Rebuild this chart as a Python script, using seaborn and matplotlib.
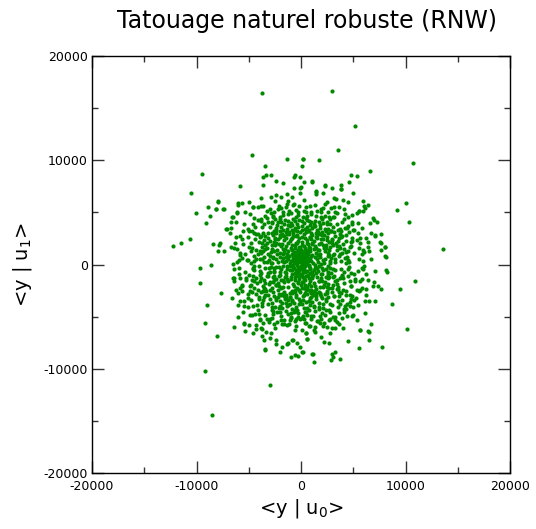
import matplotlib
matplotlib.use("Agg")
import matplotlib.pyplot as plt
from matplotlib.ticker import MultipleLocator
import seaborn as sns
import pandas as pd

# Coordonnees, en milliers : (<y|u0>, <y|u1>)
centre = [
    (-1.2, 2.1), (-0.6, 1.9), (0.1, 2.2), (0.7, 2.0), (1.3, 1.8), (-0.2, 1.7), (0.4, 1.6), (-1.5, 1.5),
    (1.6, 1.4), (-0.9, 1.4), (0.9, 1.3), (-2.0, 1.1), (-1.3, 1.0), (-0.5, 1.2), (0.2, 1.1), (1.1, 0.9),
    (1.8, 1.0), (-0.1, 0.8), (0.6, 0.7), (-0.8, 0.7), (-1.7, 0.6), (1.5, 0.5), (2.1, 0.4), (-2.2, 0.2),
    (-1.4, 0.3), (-0.7, 0.2), (0.0, 0.4), (0.5, 0.1), (1.0, 0.3), (1.7, -0.1), (-1.1, -0.1), (-0.3, -0.2),
    (0.3, -0.4), (0.9, -0.3), (-1.9, -0.4), (-1.5, -0.7), (-0.6, -0.8), (0.1, -0.9), (0.7, -1.0), (1.4, -0.8),
    (2.0, -0.9), (-2.1, -1.1), (-1.0, -1.2), (-0.2, -1.4), (0.4, -1.5), (1.1, -1.3), (1.7, -1.6), (-1.6, -1.7),
    (-0.8, -1.9), (0.0, -2.0), (0.8, -1.9), (1.3, -2.1), (-1.2, -2.2), (-0.4, -2.3), (0.5, -2.4),
    (-1.0, 2.4), (0.4, 2.5), (-0.3, 2.3), (1.0, 2.4), (-1.8, 2.0), (1.9, 2.1), (-0.7, 1.2), (0.0, 1.4),
    (0.5, 1.0), (1.2, 1.5), (-1.2, 0.5), (-0.4, 0.5), (0.3, 0.6), (0.8, 0.0), (1.3, 0.0), (-0.5, -0.5),
    (0.0, -0.1), (0.6, -0.6), (1.2, -0.5), (-1.3, -0.4), (-0.9, -0.9), (-0.4, -1.0), (0.2, -1.2), (0.9, -1.6),
    (1.5, -1.2), (-1.9, -1.5), (-1.4, -1.1), (-0.6, -1.5), (0.2, -1.7), (1.0, -2.4), (-0.1, -2.6), (-0.9, -2.5),
    (0.6, -2.8), (-0.5, -2.9), (0.2, -3.0), (-0.2, 0.2), (0.2, 0.3), (-0.6, 0.9), (0.1, 1.9), (-0.3, 1.0),
    (0.8, 1.7), (-1.4, 1.8), (1.5, 2.5), (-2.3, 1.4), (2.3, 1.3), (-2.4, -0.2), (2.4, -0.4), (-2.4, -2.0),
    (2.2, -2.0), (-1.6, -2.6), (1.7, -2.6), (-0.3, -1.8), (0.5, -1.1), (-0.8, 0.0), (0.4, -0.1), (1.6, 0.9),
    (-1.7, 1.0), (0.9, 0.6), (-0.1, 0.6), (0.2, 0.9), (-0.9, 1.9), (0.6, 2.1), (-0.4, 2.8), (0.3, 2.9),
    (1.1, 2.8), (-1.3, 2.9), (-2.0, 2.6), (2.0, 2.8), (2.6, 0.8), (-2.7, 0.7), (2.7, -1.2), (-2.7, -1.2),
    (-0.2, -3.3), (0.9, -3.2), (-1.1, -3.1), (0.05, 0.05), (-0.15, -0.5), (0.35, 0.45), (-0.45, 0.15),
    (0.65, 0.35), (-0.65, -0.3), (0.15, -0.7), (-0.05, 1.2), (0.45, 1.3), (-0.95, 0.35), (1.05, -0.75),
    (-1.15, 0.85), (1.3, 0.75), (-0.25, -1.15), (0.75, -1.25), (-1.25, -1.55), (1.25, -1.75), (-0.55, 1.6),
    (0.25, 1.75), (-1.75, -0.15), (1.95, 0.05), (0.05, -1.65), (-0.7, -2.1), (0.95, -2.05), (-2.05, 0.75),
    (2.1, -0.55), (-0.35, 2.05), (0.55, 2.35), (1.4, 1.1), (-1.45, -0.8), (-0.75, 0.55), (0.85, -0.85),
    (-1.05, -0.55), (1.55, -0.35), (-1.6, 0.2), (0.15, 0.7), (-0.25, -0.75), (0.7, 1.05), (-0.85, 1.05),
    (1.05, 1.95), (-1.65, 2.35), (2.35, 1.85), (-2.5, 1.85), (2.55, -0.1), (-2.55, -0.75), (1.9, -1.25),
    (-2.2, -1.8), (0.3, -2.25), (-0.55, -2.65), (1.45, -2.75), (-1.9, -2.9), (2.5, -2.5), (0.7, 3.2),
    (-0.8, 3.0), (1.6, 3.1), (-2.4, 3.0), (-3.0, -1.7), (3.0, 2.1), (-0.1, 3.1), (0.45, -3.55), (-1.5, -3.3),
]

centre_bis = [
    (-0.12, 0.33), (0.27, -0.18), (-0.38, -0.07), (0.58, 0.62), (-0.71, 0.44), (0.83, -0.47), (-0.52, -1.02),
    (0.12, 1.02), (-1.08, 0.12), (1.12, 0.18), (-0.31, 1.41), (0.68, 1.38), (-1.21, 1.27), (1.44, 1.63),
    (-1.63, 1.22), (1.83, 0.72), (-1.86, 0.38), (2.02, -0.33), (-2.04, -0.71), (1.62, -0.66), (-1.33, -1.38),
    (0.37, -1.93), (-0.62, -1.22), (1.08, -1.12), (-0.03, -0.47), (0.48, 0.27), (-0.83, -0.52), (0.97, 0.82),
    (-0.18, 2.53), (0.82, 2.62), (-0.77, 2.71), (1.28, 2.23), (-1.47, 2.51), (2.18, 1.62), (-2.28, 1.03),
    (2.32, 0.53), (-2.39, 0.48), (2.63, -0.68), (-2.61, -0.33), (1.98, -1.62), (-1.72, -2.12), (0.62, -2.14),
    (-0.23, -2.48), (1.41, -2.38), (-1.08, -2.72), (0.38, -2.71), (-0.47, -3.08), (1.18, -2.97), (-2.37, -1.42),
    (2.41, -1.18), (0.08, 2.68), (-0.52, 2.02), (0.33, 1.33), (-0.93, 1.62), (1.73, 1.98), (-1.92, 1.73),
    (2.52, 2.32), (-2.62, 2.12), (2.82, 0.32), (-2.88, 0.12), (2.72, 1.42), (-2.81, 1.52), (3.02, -0.43),
    (-3.03, -0.38), (0.18, -3.38), (-0.88, -3.42), (0.72, -3.53), (-1.62, -3.02), (1.88, -3.02), (0.07, 3.32),
    (-0.62, 3.28), (0.93, 2.98), (1.57, 2.82), (-1.78, 2.83), (-0.05, -1.08), (0.74, -0.18), (-0.59, 0.72),
    (0.28, -1.42), (1.31, -0.29), (-1.39, 0.68), (0.46, 0.92), (-0.96, -1.43), (1.63, 0.28), (-1.57, -1.23),
    (0.14, 0.52), (-0.34, 0.84), (0.88, 1.58), (-0.28, -1.68), (1.22, -2.57), (-2.18, -2.47), (2.12, 2.48),
    (-1.12, 3.12), (0.52, 3.08), (2.33, -2.82), (-2.51, 2.58), (-3.12, 0.98), (3.18, 1.02), (-3.22, -1.08),
    (3.21, -1.62), (0.98, -2.73), (-1.98, -0.98), (1.92, -0.93), (-0.72, -0.27), (0.62, 0.08), (-0.11, -0.87),
    (0.22, 0.12), (-0.42, 0.38), (0.39, -0.71), (-0.81, 0.91), (0.71, 1.21), (-1.31, -0.17), (1.19, -0.99),
    (-0.08, 1.58), (0.11, -2.22), (-1.01, 2.21), (1.01, 2.11), (-2.12, -0.28), (2.22, 0.18), (-0.61, -2.42),
    (0.72, -2.41),
]

milieu_gauche = [
    (-3.0, 0.8), (-3.6, 1.3), (-2.8, 1.9), (-3.2, 2.5), (-2.6, 3.2), (-1.7, 3.3), (-1.1, 3.7), (-0.4, 3.9),
    (-3.9, 0.5), (-4.3, 1.4), (-3.7, 2.1), (-4.1, 2.9), (-3.0, 3.6), (-2.3, 3.8), (-1.5, 4.3), (-0.8, 4.4),
    (-4.5, 0.8), (-4.4, 2.4), (-3.5, 3.9), (-2.8, 4.1), (-2.0, 4.6), (-1.2, 4.8), (-0.2, 4.3), (-5.0, 1.7),
    (-4.8, 0.1), (-2.5, 2.4), (-3.3, 1.6), (-2.0, 2.8), (-1.6, 2.7), (-0.9, 3.3), (-2.5, 4.4), (-3.3, 4.5),
    (-4.4, 3.6), (-5.1, 2.6), (-5.4, 1.0), (-1.7, 5.0), (-0.5, 5.2), (-2.9, 4.9), (-3.8, 1.1), (-3.3, 0.2),
    (-2.8, 0.1), (-4.0, 2.2), (-1.3, 3.4), (-0.3, 3.6), (-2.7, 2.8), (-3.6, 3.0), (-1.9, 4.1), (-1.0, 4.0),
    (-4.7, 3.2), (-2.2, 5.3), (-3.1, 0.4), (-2.9, 1.2), (-3.5, 0.7), (-4.0, -0.1), (-3.7, 1.7), (-1.2, 4.2),
    (-0.6, 3.5), (-1.9, 3.6), (-2.4, 2.1), (-3.4, 2.7),
    (-3.0, -0.7), (-3.5, -1.5), (-2.8, -2.3), (-3.4, -2.9), (-2.4, -3.4), (-1.8, -3.7), (-1.1, -3.8),
    (-0.5, -4.1), (-3.9, -0.6), (-4.2, -1.8), (-3.6, -2.5), (-4.0, -3.3), (-3.2, -3.8), (-2.1, -4.2),
    (-1.4, -4.5), (-0.7, -4.6), (-4.6, -1.1), (-4.5, -2.3), (-3.7, -4.0), (-2.8, -4.4), (-1.9, -4.9),
    (-1.0, -5.1), (-0.3, -4.7), (-4.9, -2.1), (-4.6, -0.4), (-2.7, -2.6), (-3.1, -1.9), (-2.2, -3.1),
    (-1.4, -2.9), (-0.9, -3.5), (-2.3, -4.6), (-3.4, -4.8), (-4.2, -3.9), (-5.1, -2.8), (-5.3, -1.3),
    (-1.6, -5.3), (-0.6, -5.4), (-2.8, -5.1), (-3.8, -1.3), (-3.4, -0.3), (-2.9, -0.2), (-4.1, -2.4),
    (-1.2, -3.4), (-0.2, -3.8), (-2.6, -3.0), (-3.6, -3.4), (-1.8, -4.2), (-0.9, -4.3), (-4.8, -3.4),
    (-2.3, -5.5), (-3.2, -1.1), (-2.6, -1.5), (-3.9, -1.6), (-1.9, -2.3), (-2.4, -2.0), (-0.7, -3.7),
]

milieu_droite = [
    (2.9, 0.6), (3.4, 1.4), (2.7, 2.2), (3.3, 2.7), (2.3, 3.4), (1.8, 3.5), (0.9, 3.8), (0.3, 4.0),
    (3.8, 0.3), (4.1, 1.5), (3.6, 2.5), (3.8, 3.2), (3.1, 3.6), (2.1, 4.0), (1.3, 4.2), (0.6, 4.7),
    (4.4, 0.7), (4.3, 2.3), (3.4, 3.9), (2.8, 4.4), (1.9, 4.6), (1.0, 5.0), (0.2, 4.6), (4.8, 1.8),
    (4.6, 0.2), (2.5, 2.6), (3.1, 1.9), (2.0, 3.1), (1.4, 2.6), (0.8, 3.3), (2.3, 4.7), (3.2, 4.6),
    (4.2, 3.5), (4.9, 2.5), (5.1, 1.1), (1.5, 5.1), (0.5, 5.5), (2.6, 5.0), (3.7, 1.0), (3.3, 0.5),
    (2.8, 0.1), (4.0, 2.0), (1.1, 3.5), (0.1, 3.7), (2.6, 3.0), (3.5, 3.3), (1.7, 4.1), (0.8, 4.2),
    (4.6, 3.1), (2.1, 5.4), (3.1, 0.9), (3.6, 1.8), (4.2, 0.6), (2.4, 1.6), (1.9, 2.4), (3.0, 2.4),
    (1.2, 3.9), (0.4, 3.4), (2.9, 3.2), (4.5, 1.3),
    (2.9, -0.8), (3.4, -1.5), (2.7, -2.3), (3.2, -3.0), (2.4, -3.5), (1.7, -3.7), (0.9, -3.9),
    (0.3, -4.2), (3.8, -0.4), (4.1, -1.8), (3.6, -2.6), (3.9, -3.4), (3.0, -3.9), (2.1, -4.2),
    (1.3, -4.5), (0.6, -4.8), (4.5, -1.1), (4.3, -2.5), (3.5, -4.1), (2.8, -4.6), (1.8, -4.9),
    (1.0, -5.2), (0.2, -4.9), (4.8, -2.1), (4.6, -0.2), (2.5, -2.7), (3.1, -2.0), (2.0, -3.2),
    (1.4, -3.0), (0.8, -3.5), (2.3, -4.8), (3.3, -5.0), (4.2, -4.0), (4.9, -3.0), (5.2, -1.4),
    (1.5, -5.4), (0.5, -5.6), (2.7, -5.3), (3.7, -1.3), (3.3, -0.5), (2.8, -0.3), (4.0, -2.4),
    (1.1, -3.6), (0.1, -3.8), (2.6, -3.1), (3.5, -3.5), (1.7, -4.3), (0.8, -4.4), (4.7, -3.6),
    (2.2, -5.6), (3.2, -1.1), (2.3, -1.7), (3.9, -1.0), (1.8, -2.2), (2.6, -1.9), (1.2, -2.8),
]

milieu_bis = [
    (-3.52, 0.22), (-3.83, -0.82), (-4.28, 0.53), (-4.52, -1.62), (-3.27, 2.08), (-3.91, 2.61), (-2.42, 3.52),
    (-1.63, 3.92), (-0.83, 3.83), (0.12, 4.22), (0.92, 4.12), (1.83, 3.82), (2.62, 3.42), (3.32, 2.08),
    (3.72, 1.62), (4.32, 0.12), (4.12, -0.72), (3.52, -2.12), (2.92, -2.62), (2.12, -3.82), (1.22, -4.12),
    (0.42, -4.52), (-0.42, -4.32), (-1.32, -4.02), (-2.02, -3.52), (-2.92, -3.32), (-3.32, -2.52),
    (-4.52, -0.12), (-5.12, 0.42), (-5.32, -0.72), (-5.52, 1.92), (-4.92, -2.52), (-5.62, -1.92),
    (-4.52, 3.02), (-3.82, 4.32), (-2.62, 5.02), (-1.42, 5.52), (-0.22, 5.62), (0.82, 5.62), (1.92, 5.02),
    (3.02, 4.52), (3.92, 4.12), (4.52, 3.72), (5.32, 2.32), (5.52, 0.52), (5.42, -0.62), (5.32, -2.42),
    (4.72, -2.92), (4.12, -4.52), (3.02, -5.02), (1.82, -5.62), (0.72, -5.92), (-0.52, -5.92), (-1.82, -5.72),
    (-3.02, -5.52), (-4.02, -4.72), (-4.62, -4.02), (-5.42, -3.52),
    (-2.22, 2.42), (-2.82, 3.02), (-1.12, 2.92), (-0.42, 3.22), (0.62, 3.62), (1.52, 3.32), (2.22, 2.82),
    (2.82, 1.72), (3.22, 0.22), (3.02, -1.22), (2.52, -2.12), (1.82, -2.82), (0.92, -3.12), (-0.12, -3.52),
    (-1.02, -3.12), (-2.12, -2.82), (-2.72, -1.72), (-3.12, -0.82), (-3.42, 1.52), (-2.02, 3.22),
    (-0.32, 4.72), (0.52, 5.02), (1.42, 4.62), (2.52, 4.12), (3.72, 2.92), (4.32, 1.22), (4.02, -1.32),
    (3.62, -3.02), (2.42, -4.32), (1.12, -4.92), (-0.12, -5.22), (-1.22, -4.72), (-2.52, -4.12),
    (-3.52, -3.12), (-4.32, -1.32), (-4.12, 1.02), (-3.12, 4.12), (-1.72, 4.72), (-0.72, 5.72),
    (2.62, -0.92), (2.72, 0.92), (-2.62, -0.62), (-2.72, 0.62), (0.32, -2.92), (-0.52, 2.72), (1.32, 3.72),
    (-1.42, -3.72), (1.72, -4.12), (-2.22, 4.12), (3.42, -2.32), (-3.62, -2.02), (3.62, 0.82), (-3.72, 0.52),
    (2.02, 4.32), (-0.92, -4.62), (4.82, -0.82), (-4.82, 1.32), (0.12, -6.32), (0.32, 6.22), (-6.12, 0.22),
    (6.02, -0.12), (-5.92, -0.92), (5.92, 1.42), (-1.22, 6.12), (1.22, -6.32), (4.52, 4.52), (-4.52, 4.42),
    (4.42, -4.92), (-4.72, -4.82),
]

milieu_ter = [
    (-1.85, 2.95), (-2.35, 3.35), (-2.95, 2.25), (-3.45, 1.85), (-3.95, 1.25), (-4.45, 0.35), (-3.75, 3.55),
    (-2.65, 4.65), (-1.45, 3.15), (-0.55, 4.15), (-0.95, 4.95), (-1.95, 5.45), (-3.25, 5.15), (-4.15, 4.25),
    (-5.05, 3.45), (-5.65, 2.45), (-5.85, 1.15), (-4.75, 2.05), (-3.15, 3.05), (-2.15, 1.95), (-1.75, 1.45),
    (-2.55, 1.25), (-3.55, 2.35), (-4.35, 2.95), (-0.25, 5.05), (-1.35, 5.85), (-2.45, 6.05), (-3.65, 5.65),
    (-4.85, 4.85), (-5.45, 3.85), (-6.25, 2.65), (-6.45, 1.55), (-5.95, 0.45), (-0.85, 2.55), (-1.25, 3.75),
    (-2.75, 3.95), (-3.85, 2.75), (-4.65, 1.55), (-2.05, 4.35), (-0.45, 4.55),
    (1.85, 2.95), (2.35, 3.25), (2.95, 2.35), (3.45, 1.75), (3.95, 1.15), (4.45, 0.45), (3.75, 3.45),
    (2.65, 4.55), (1.45, 3.05), (0.55, 4.25), (0.95, 4.85), (1.95, 5.35), (3.25, 5.05), (4.15, 4.35),
    (5.05, 3.35), (5.65, 2.55), (5.85, 1.05), (4.75, 2.15), (3.15, 3.15), (2.15, 1.85), (1.75, 1.35),
    (2.55, 1.15), (3.55, 2.25), (4.35, 2.85), (0.25, 5.15), (1.35, 5.75), (2.45, 5.95), (3.65, 5.55),
    (4.85, 4.75), (5.45, 3.95), (6.25, 2.55), (6.45, 1.65), (5.95, 0.35), (0.85, 2.65), (1.25, 3.65),
    (2.75, 3.85), (3.85, 2.65), (4.65, 1.65), (2.05, 4.45), (0.45, 4.45),
    (-1.85, -2.85), (-2.35, -3.25), (-2.95, -2.45), (-3.45, -1.75), (-3.95, -1.05), (-4.45, -0.55),
    (-3.75, -3.65), (-2.65, -4.45), (-1.45, -3.25), (-0.55, -4.35), (-0.95, -5.05), (-1.95, -5.35),
    (-3.25, -5.25), (-4.15, -4.35), (-5.05, -3.25), (-5.65, -2.55), (-5.85, -1.25), (-4.75, -1.95),
    (-3.15, -2.95), (-2.15, -2.05), (-1.75, -1.45), (-2.55, -1.15), (-3.55, -2.25), (-4.35, -2.85),
    (-0.25, -5.05), (-1.35, -5.85), (-2.45, -6.05), (-3.65, -5.65), (-4.85, -4.85), (-5.45, -3.95),
    (-6.25, -2.45), (-6.45, -1.55), (-5.95, -0.35), (-0.85, -2.75), (-1.25, -3.85), (-2.75, -3.65),
    (-3.85, -2.65), (-4.65, -1.45), (-2.05, -4.55), (-0.45, -4.45),
    (1.85, -2.75), (2.35, -3.35), (2.95, -2.25), (3.45, -1.85), (3.95, -1.15), (4.45, -0.45), (3.75, -3.75),
    (2.65, -4.35), (1.45, -3.35), (0.55, -4.15), (0.95, -4.95), (1.95, -5.25), (3.25, -5.35), (4.15, -4.25),
    (5.05, -3.45), (5.65, -2.45), (5.85, -1.35), (4.75, -2.05), (3.15, -3.05), (2.15, -2.15), (1.75, -1.55),
    (2.55, -1.25), (3.55, -2.35), (4.35, -2.95), (0.25, -5.25), (1.35, -5.95), (2.45, -5.95), (3.65, -5.75),
    (4.85, -4.95), (5.45, -3.85), (6.25, -2.35), (6.45, -1.45), (5.95, -0.45), (0.85, -2.55), (1.25, -3.95),
    (2.75, -3.75), (3.85, -2.75), (4.65, -1.55), (2.05, -4.65), (0.45, -4.55),
]

bord_haut = [
    (-3.71, 16.44), (-4.73, 10.47), (-1.37, 10.08), (0.16, 10.08), (0.13, 9.44), (-9.49, 8.68),
    (-3.48, 9.41), (-3.67, 8.42), (-3.39, 8.58), (-2.85, 8.61), (-3.61, 7.65), (-5.82, 7.56),
    (-2.37, 8.0), (-1.70, 7.84), (-0.67, 8.42), (-0.55, 8.58), (-0.06, 7.36), (-10.52, 6.88),
    (-10.07, 4.97), (-8.89, 5.51), (-8.15, 5.29), (-7.99, 6.06), (-7.41, 5.35), (-9.08, 3.98),
    (-8.70, 4.68), (-12.24, 1.74), (-11.44, 2.09), (-10.61, 2.47), (-6.07, 5.70), (-5.69, 5.90),
    (-5.01, 6.02), (-4.60, 5.51), (-3.84, 5.58), (-3.81, 6.40), (-5.34, 5.00), (-6.10, 5.00),
    (-6.55, 4.53), (-6.68, 4.05), (-6.23, 4.11), (-7.16, 3.43), (-6.84, 3.02), (-8.41, 1.99),
    (-7.77, 2.09), (-7.86, 1.87), (-7.99, 6.02), (-8.18, 5.32), (-7.45, 5.32), (-6.04, 5.87),
    (-4.57, 5.48), (-4.09, 5.54), (-2.85, 6.5), (-2.4, 6.63), (-1.95, 6.47), (-1.37, 6.79),
    (-0.83, 6.47), (-0.64, 7.31), (-0.1, 6.83), (-6.59, 4.55), (-6.11, 4.97), (-7.12, 3.43),
    (-7.99, 1.29), (-7.38, 1.26), (-6.71, 1.68), (-6.14, 1.46), (-5.85, 0.88), (-6.49, 0.07),
    (-5.63, 0.65), (-5.11, 0.4), (-4.63, -0.31), (-8.63, -0.08), (-6.68, 3.47), (-5.53, 3.21),
    (-5.85, 2.7), (-6.3, 2.06), (-4.96, 3.21), (-4.57, 3.85), (-3.84, 4.17), (-3.42, 4.68),
    (-2.97, 5.29), (-2.68, 4.58), (-2.08, 5.61), (-1.12, 5.13), (-0.64, 5.77),
    (3.0, 16.6), (5.21, 13.28), (3.52, 11.0), (10.67, 9.73), (0.19, 10.08), (1.73, 10.05),
    (6.59, 8.94), (4.82, 8.58), (5.34, 8.49), (3.86, 7.65), (3.83, 7.21), (3.0, 7.33), (2.30, 7.56),
    (4.63, 7.88), (1.09, 7.94), (0.32, 7.91), (-0.1, 8.4), (4.96, 6.83), (1.44, 7.00), (2.14, 6.9),
    (10.03, 5.9), (9.17, 5.19), (10.38, 4.07), (13.55, 1.52), (5.97, 6.06), (6.39, 5.68), (6.13, 5.42),
    (5.55, 5.13), (6.64, 4.01), (7.29, 4.11), (6.87, 4.49), (6.71, 2.99), (7.64, 2.9), (7.12, 2.73),
    (7.70, 2.09), (7.70, 1.36), (8.08, 1.65), (8.12, 0.75), (6.49, 1.29), (4.47, 6.01),
    (0.0, 7.46), (1.08, 8.0), (2.3, 7.6), (3.86, 7.24), (1.47, 7.05), (1.41, 6.79), (3.13, 6.35),
    (3.33, 6.31), (4.0, 6.18), (6.04, 5.64), (5.53, 5.16), (5.92, 5.13), (7.0, 4.24), (7.09, 2.8),
    (7.6, 2.16), (8.05, 1.68), (8.08, 0.79), (6.45, 2.13), (6.68, 0.56), (6.07, 1.2), (5.66, 2.09),
    (5.59, 1.61), (4.86, 2.25), (4.89, 4.1), (4.92, 3.91), (4.22, 4.81), (3.48, 4.97), (2.85, 5.39),
    (2.33, 5.77), (3.19, 5.48), (4.09, 5.32), (5.34, 4.97), (5.85, 3.53), (5.49, 3.05), (5.01, 3.31),
    (4.38, 3.53), (3.9, 2.73), (2.88, 3.21), (2.46, 3.85),
]

bord_bas = [
    (-9.2, -10.21), (-8.47, -14.46), (-2.97, -11.58), (-9.18, -5.58), (-8.03, -6.82), (-9.01, -3.88),
    (-9.68, -1.74), (-9.65, -0.3), (-7.67, -2.76), (-6.52, -1.32), (-6.62, -3.18), (-6.07, -3.86),
    (-5.59, -4.53), (-6.04, -5.0), (-6.45, -5.99), (-5.47, -5.61), (-5.01, -5.83), (-5.34, -6.38),
    (-4.60, -6.57), (-4.28, -5.8), (-3.96, -5.35), (-3.71, -6.18), (-3.33, -6.44), (-2.88, -6.57),
    (-3.55, -7.21), (-3.45, -8.13), (-2.43, -7.27), (-2.40, -7.65), (-2.04, -8.36), (-1.82, -7.94),
    (-1.28, -7.53), (-0.93, -8.9), (-0.58, -8.71), (-0.29, -8.74), (0.16, -8.39), (-0.1, -7.94),
    (-0.38, -7.5), (-0.8, -7.21), (-0.55, -6.31), (0.58, -7.11), (0.51, -6.6),
    (-5.5, -5.69), (-4.34, -6.17), (-3.86, -6.11), (-3.74, -6.87), (-2.94, -7.03), (-3.42, -8.22),
    (-1.31, -7.6), (-0.83, -7.26), (-1.12, -5.73), (-1.03, -5.35), (-0.51, -5.25), (-1.66, -5.67),
    (-2.62, -5.67), (-2.97, -5.25), (-2.71, -4.72), (-2.01, -3.98), (-2.81, -4.05), (-3.93, -5.25),
    (-4.41, -4.77), (-5.05, -4.07), (-5.85, -3.53), (-6.01, -2.75), (-5.69, -2.11), (-5.3, -1.47),
    (-4.99, -0.99), (-4.67, -2.59), (-4.0, -3.07), (-3.45, -2.38), (-6.39, -1.27), (-6.45, -0.4),
    (-5.82, -2.25),
    (10.9, -1.61), (10.16, -6.21), (9.49, -2.38), (8.72, -3.82), (8.15, -0.53), (8.27, -0.75),
    (7.79, -7.88), (6.49, -7.27), (5.59, -8.04), (3.71, -9.09), (3.23, -8.4), (2.97, -8.54),
    (2.88, -9.18), (1.25, -9.38), (1.08, -8.58), (0.13, -8.39), (4.48, -7.31), (5.66, -6.28),
    (6.45, -6.4), (6.52, -6.44), (6.74, -5.68), (6.11, -4.68), (7.1, -0.65), (6.97, -1.68),
    (6.9, -2.03), (7.35, -2.06), (7.64, -2.38), (6.2, -2.96), (6.55, -3.53), (7.07, -3.5),
    (6.14, -3.47), (5.69, -6.3), (5.4, -5.3), (5.02, -4.82), (4.96, -4.06), (4.29, -4.27),
    (4.0, -6.09), (3.23, -6.09), (2.94, -6.09), (3.42, -5.48), (2.75, -6.57), (2.66, -7.5),
    (2.21, -7.43), (1.89, -6.92), (1.34, -6.47), (0.55, -7.11), (0.48, -6.57), (1.12, -8.55),
    (3.1, -8.84), (3.9, -5.1), (4.67, -3.98), (5.27, -3.18), (5.85, -2.22), (5.66, -1.61),
    (6.26, -0.88), (5.85, -0.3), (5.11, -0.91), (5.15, -1.58), (5.59, -2.54), (4.79, -3.34),
    (4.38, -3.82), (3.67, -4.62), (2.78, -5.25), (2.14, -5.9), (1.6, -5.42), (0.86, -5.9),
    (0.38, -5.58), (0.1, -5.1),
]

points = (centre + centre_bis + milieu_gauche + milieu_droite + milieu_bis
          + milieu_ter + bord_haut + bord_bas)
df = pd.DataFrame(points, columns=["u0", "u1"]) * 1000

titre = "Tatouage naturel robuste (RNW)"
label_x = r"<y | u$_0$>"
label_y = r"<y | u$_1$>"
ticks = [-20000, -10000, 0, 10000, 20000]

sns.set_style("ticks")
plt.rcParams["font.family"] = ["DejaVu Sans"]
plt.rcParams["axes.unicode_minus"] = False
plt.rcParams["text.color"] = "black"
plt.rcParams["axes.labelcolor"] = "black"
plt.rcParams["xtick.labelcolor"] = "black"
plt.rcParams["ytick.labelcolor"] = "black"

fig = plt.figure(figsize=(5.36, 5.29), dpi=100)
ax = fig.add_axes([92 / 536, 1 - 473 / 529, 418 / 536, 417 / 529])

sns.scatterplot(data=df, x="u0", y="u1", color="#008a00", s=9,
                linewidth=0, ax=ax)

ax.set_xlim(-20000, 20000)
ax.set_ylim(-20000, 20000)
ax.set_xticks(ticks)
ax.set_yticks(ticks)
ax.xaxis.set_minor_locator(MultipleLocator(5000))
ax.yaxis.set_minor_locator(MultipleLocator(5000))
ax.tick_params(which="both", direction="in", top=True, right=True,
               labelsize=9, color="#333333", width=1)
ax.tick_params(which="major", length=8.5, pad=5)
ax.tick_params(which="minor", length=4.5)
ax.tick_params(axis="y", which="major", pad=3)
for sp in ax.spines.values():
    sp.set_linewidth(1)
    sp.set_color("black")

ax.set_xlabel(label_x, fontsize=14, labelpad=3)
ax.set_ylabel(label_y, fontsize=14, labelpad=7)
ax.set_title(titre, fontsize=17, pad=20, x=0.515)

fig.savefig("out.png", dpi=100)
plt.close(fig)
